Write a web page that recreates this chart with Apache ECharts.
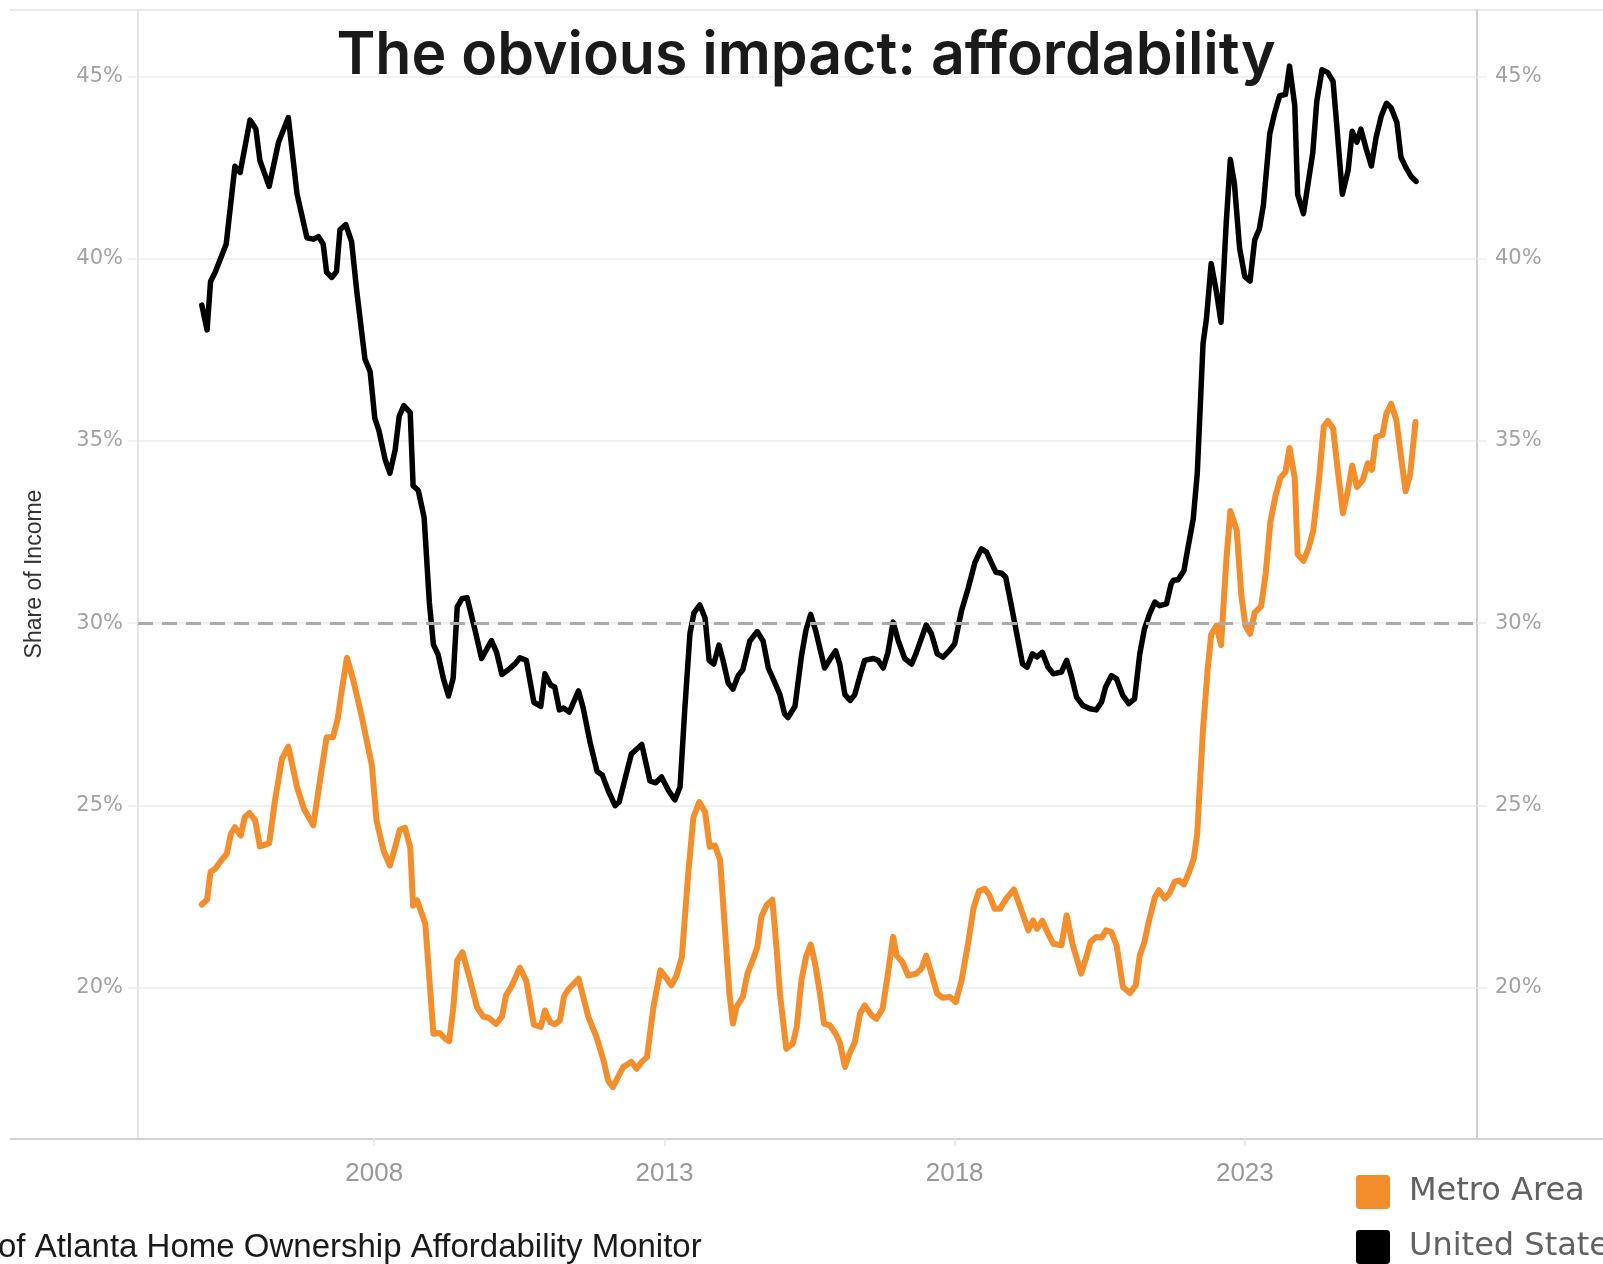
<!DOCTYPE html>
<html>
<head>
<meta charset="utf-8">
<script src="https://cdn.jsdelivr.net/npm/echarts@6/dist/echarts.min.js"></script>
<style>
  html, body { margin: 0; padding: 0; background: #ffffff; }
  #chart { width: 1603px; height: 1264px; }
</style>
</head>
<body>
<div id="chart"></div>
<script>
// ---- Data (decimal years, share of income in %) ----
const usYear = [2005.03,2005.12,2005.18,2005.26,2005.45,2005.60,2005.69,2005.86,2005.96,2006.03,2006.19,2006.35,2006.52,2006.67,2006.84,2006.95,2007.04,2007.12,2007.18,2007.27,2007.35,2007.41,2007.51,2007.61,2007.70,2007.84,2007.93,2008.01,2008.08,2008.19,2008.27,2008.36,2008.43,2008.51,2008.62,2008.67,2008.76,2008.86,2008.95,2009.02,2009.10,2009.19,2009.28,2009.36,2009.43,2009.51,2009.60,2009.74,2009.85,2010.02,2010.11,2010.20,2010.34,2010.43,2010.51,2010.62,2010.75,2010.87,2010.94,2011.04,2011.11,2011.19,2011.26,2011.36,2011.52,2011.60,2011.72,2011.84,2011.93,2012.03,2012.15,2012.22,2012.32,2012.43,2012.61,2012.75,2012.85,2012.95,2013.07,2013.18,2013.27,2013.35,2013.44,2013.51,2013.61,2013.70,2013.77,2013.85,2013.94,2014.01,2014.10,2014.18,2014.27,2014.35,2014.47,2014.60,2014.70,2014.79,2014.92,2014.99,2015.07,2015.13,2015.25,2015.36,2015.44,2015.52,2015.61,2015.76,2015.86,2015.95,2016.02,2016.11,2016.20,2016.28,2016.37,2016.45,2016.60,2016.68,2016.77,2016.85,2016.94,2017.03,2017.14,2017.26,2017.34,2017.51,2017.60,2017.70,2017.80,2017.92,2018.00,2018.12,2018.23,2018.35,2018.46,2018.55,2018.63,2018.71,2018.81,2018.88,2018.96,2019.06,2019.17,2019.25,2019.34,2019.42,2019.51,2019.61,2019.70,2019.84,2019.93,2020.01,2020.10,2020.21,2020.33,2020.44,2020.53,2020.60,2020.70,2020.79,2020.90,2021.00,2021.10,2021.19,2021.27,2021.36,2021.45,2021.53,2021.65,2021.73,2021.77,2021.85,2021.95,2022.02,2022.11,2022.18,2022.23,2022.28,2022.34,2022.42,2022.51,2022.59,2022.68,2022.75,2022.82,2022.91,2023.00,2023.09,2023.17,2023.25,2023.32,2023.43,2023.51,2023.60,2023.70,2023.77,2023.86,2023.91,2024.01,2024.09,2024.17,2024.24,2024.33,2024.43,2024.52,2024.58,2024.68,2024.78,2024.85,2024.93,2025.00,2025.09,2025.18,2025.26,2025.35,2025.44,2025.52,2025.62,2025.69,2025.78,2025.87,2025.95];
const usShare = [38.73,38.05,39.38,39.63,40.41,42.54,42.37,43.81,43.57,42.70,41.99,43.19,43.88,41.78,40.58,40.54,40.61,40.41,39.63,39.49,39.65,40.80,40.94,40.47,39.10,37.25,36.90,35.62,35.29,34.48,34.12,34.75,35.68,35.97,35.78,33.77,33.64,32.90,30.56,29.41,29.14,28.49,28.00,28.49,30.45,30.67,30.70,29.79,29.03,29.52,29.19,28.59,28.76,28.89,29.05,28.98,27.83,27.72,28.61,28.30,28.25,27.62,27.67,27.56,28.14,27.67,26.72,25.93,25.83,25.41,24.99,25.09,25.72,26.41,26.67,25.67,25.62,25.78,25.41,25.15,25.51,27.62,29.72,30.29,30.50,30.14,28.98,28.88,29.40,28.98,28.35,28.19,28.56,28.72,29.51,29.77,29.51,28.77,28.30,28.04,27.51,27.41,27.72,29.09,29.82,30.24,29.77,28.77,29.03,29.24,28.88,28.04,27.88,28.04,28.56,28.98,29.03,28.98,28.77,29.19,30.03,29.51,29.03,28.88,29.19,29.95,29.71,29.16,29.07,29.27,29.43,30.35,30.94,31.67,32.04,31.95,31.67,31.40,31.37,31.26,30.62,29.80,28.88,28.79,29.16,29.07,29.20,28.79,28.61,28.66,28.98,28.56,27.97,27.74,27.65,27.62,27.83,28.24,28.56,28.47,28.01,27.79,27.92,29.16,29.84,30.26,30.58,30.48,30.53,31.08,31.18,31.19,31.44,32.07,32.85,34.10,35.88,37.67,38.38,39.87,39.10,38.26,41.00,42.73,42.07,40.29,39.51,39.39,40.52,40.82,41.48,43.44,43.98,44.48,44.51,45.29,44.21,41.77,41.24,42.07,42.90,44.33,45.19,45.11,44.87,43.74,41.77,42.43,43.50,43.20,43.56,43.02,42.55,43.32,43.92,44.27,44.15,43.74,42.79,42.49,42.25,42.13];

const metroYear = [2005.03,2005.12,2005.18,2005.26,2005.37,2005.46,2005.53,2005.60,2005.70,2005.77,2005.85,2005.95,2006.03,2006.12,2006.19,2006.29,2006.41,2006.52,2006.67,2006.79,2006.95,2007.07,2007.18,2007.29,2007.37,2007.44,2007.53,2007.64,2007.78,2007.96,2008.04,2008.16,2008.27,2008.36,2008.44,2008.53,2008.62,2008.67,2008.74,2008.88,2009.02,2009.13,2009.22,2009.29,2009.36,2009.43,2009.52,2009.64,2009.77,2009.88,2009.97,2010.10,2010.20,2010.27,2010.37,2010.51,2010.62,2010.75,2010.87,2010.94,2011.03,2011.11,2011.20,2011.27,2011.34,2011.52,2011.69,2011.83,2011.95,2012.03,2012.11,2012.20,2012.29,2012.43,2012.52,2012.61,2012.70,2012.81,2012.93,2013.04,2013.12,2013.21,2013.30,2013.41,2013.50,2013.60,2013.70,2013.78,2013.87,2013.96,2014.04,2014.12,2014.18,2014.24,2014.35,2014.43,2014.53,2014.60,2014.67,2014.76,2014.86,2014.93,2014.99,2015.10,2015.21,2015.28,2015.36,2015.44,2015.52,2015.59,2015.68,2015.75,2015.85,2015.95,2016.02,2016.11,2016.20,2016.28,2016.37,2016.45,2016.57,2016.65,2016.76,2016.85,2016.94,2017.00,2017.10,2017.20,2017.34,2017.43,2017.51,2017.60,2017.70,2017.79,2017.92,2018.02,2018.12,2018.23,2018.33,2018.42,2018.52,2018.60,2018.69,2018.78,2018.89,2019.02,2019.12,2019.27,2019.35,2019.42,2019.51,2019.61,2019.70,2019.84,2019.93,2020.03,2020.18,2020.27,2020.34,2020.44,2020.53,2020.61,2020.70,2020.79,2020.90,2021.02,2021.12,2021.19,2021.27,2021.35,2021.45,2021.52,2021.62,2021.70,2021.79,2021.87,2021.95,2022.04,2022.12,2022.18,2022.22,2022.28,2022.36,2022.42,2022.51,2022.59,2022.68,2022.75,2022.86,2022.94,2023.01,2023.09,2023.17,2023.28,2023.36,2023.44,2023.53,2023.61,2023.70,2023.77,2023.86,2023.91,2024.01,2024.10,2024.18,2024.28,2024.36,2024.43,2024.52,2024.60,2024.69,2024.78,2024.85,2024.93,2025.03,2025.12,2025.19,2025.26,2025.37,2025.44,2025.52,2025.61,2025.69,2025.77,2025.85,2025.94];
const metroShare = [22.28,22.41,23.17,23.26,23.50,23.67,24.22,24.40,24.17,24.68,24.79,24.58,23.87,23.92,23.96,25.13,26.28,26.61,25.50,24.90,24.45,25.73,26.87,26.87,27.37,28.15,29.05,28.43,27.47,26.09,24.58,23.76,23.35,23.85,24.33,24.38,23.85,22.25,22.39,21.75,18.73,18.75,18.60,18.53,19.41,20.74,20.97,20.28,19.46,19.20,19.17,19.00,19.20,19.78,20.05,20.54,20.18,18.98,18.92,19.37,19.05,18.99,19.10,19.76,19.94,20.24,19.19,18.64,18.00,17.45,17.27,17.54,17.82,17.96,17.77,17.96,18.09,19.46,20.47,20.24,20.06,20.33,20.84,23.12,24.68,25.09,24.82,23.86,23.90,23.49,21.66,19.83,19.01,19.46,19.74,20.38,20.79,21.11,21.94,22.26,22.41,21.11,19.83,18.32,18.46,18.92,20.20,20.84,21.18,20.70,19.83,19.01,18.96,18.73,18.50,17.82,18.23,18.50,19.28,19.51,19.24,19.14,19.42,20.38,21.39,20.88,20.70,20.33,20.38,20.52,20.88,20.38,19.83,19.72,19.74,19.60,20.20,21.20,22.21,22.65,22.71,22.53,22.16,22.16,22.44,22.69,22.26,21.57,21.84,21.61,21.83,21.48,21.20,21.16,21.98,21.20,20.38,20.84,21.25,21.39,21.37,21.57,21.52,21.16,20.01,19.85,20.06,20.88,21.25,21.84,22.48,22.67,22.44,22.58,22.90,22.94,22.83,23.17,23.54,24.22,25.41,27.10,28.74,29.69,29.93,29.40,31.71,33.08,32.55,30.76,29.93,29.71,30.29,30.46,31.36,32.79,33.50,33.98,34.15,34.81,33.98,31.89,31.71,32.07,32.55,33.98,35.40,35.55,35.35,34.21,33.02,33.68,34.33,33.74,33.92,34.39,34.21,35.11,35.17,35.76,36.02,35.58,34.57,33.62,34.10,35.52];

const xTickYears = [2008, 2013, 2018, 2023];
const yTickValues = [20, 25, 30, 35, 40, 45];
const thresholdValue = 30;
const seriesNames = ['Metro Area', 'United States'];
const titleText = 'The obvious impact: affordability';
const sourceText = 'of Atlanta Home Ownership Affordability Monitor';
const yAxisTitle = 'Share of Income';

// ---- Build ----
const zip = (xs, ys) => xs.map((x, i) => [x, ys[i]]);
const chart = echarts.init(document.getElementById('chart'), null, { renderer: 'canvas' });

const yLabelBase = { fontFamily: 'DejaVu Sans', fontSize: 21, color: '#a3a3a3',
  customValues: yTickValues, formatter: v => Math.round(v) + '%' };
const yTick = { show: true, length: 10, lineStyle: { color: '#ececec', width: 1.5 }, customValues: yTickValues };
const squareIcon = 'path://M1,0H9A1,1 0 0 1 10,1V9A1,1 0 0 1 9,10H1A1,1 0 0 1 0,9V1A1,1 0 0 1 1,0Z';
const legendBase = {
  orient: 'vertical', left: 1356, padding: 0,
  itemWidth: 34, itemHeight: 34, icon: squareIcon,
  textStyle: { fontFamily: 'DejaVu Sans', fontSize: 32, color: '#616161', padding: [0, 0, 0, 14] }
};

chart.setOption({
  animation: false,
  backgroundColor: '#ffffff',
  grid: { left: 138, top: 10, width: 1339, height: 1128, containLabel: false },
  xAxis: {
    type: 'value', min: 2003.93, max: 2027.0,
    axisLine: { show: false },
    axisTick: { show: true, length: 8, lineStyle: { color: '#e6e6e6', width: 1.5 }, customValues: xTickYears },
    axisLabel: { customValues: xTickYears, formatter: v => String(Math.round(v)),
      fontFamily: 'Liberation Sans Narrow, Liberation Sans', fontSize: 26, color: '#999999', margin: 23 },
    splitLine: { show: false }
  },
  yAxis: [
    {
      type: 'value', min: 15.87, max: 46.83, position: 'left',
      name: yAxisTitle, nameLocation: 'middle', nameRotate: 90, nameGap: 92,
      nameTextStyle: { fontFamily: 'Liberation Sans', fontSize: 23, color: '#333333' },
      axisLine: { show: true, lineStyle: { color: '#dcdcdc', width: 1.5 } },
      axisTick: yTick,
      axisLabel: Object.assign({ margin: 15 }, yLabelBase),
      splitLine: { show: true, lineStyle: { color: '#ececec', width: 1.5 } }
    },
    {
      type: 'value', min: 15.87, max: 46.83, position: 'right',
      axisLine: { show: true, lineStyle: { color: '#cfcfcf', width: 2 } },
      axisTick: yTick,
      axisLabel: Object.assign({ margin: 18 }, yLabelBase),
      splitLine: { show: false }
    }
  ],
  legend: [
    Object.assign({ data: [seriesNames[0]], top: 1175 }, legendBase),
    Object.assign({ data: [seriesNames[1]], top: 1230 }, legendBase)
  ],
  graphic: [
    { type: 'line', shape: { x1: 10, y1: 10, x2: 1603, y2: 10 }, style: { stroke: '#e2e2e2', lineWidth: 1.5 }, silent: true },
    { type: 'line', shape: { x1: 10, y1: 1139, x2: 1603, y2: 1139 }, style: { stroke: '#d2d2d2', lineWidth: 2 }, silent: true },
    { type: 'text', x: 806, y: 56, z: 10,
      style: { text: titleText, fontFamily: 'Inter', fontWeight: 600, fontSize: 59, fill: '#1a1a1a', align: 'center', verticalAlign: 'middle' } },
    { type: 'text', x: -2, y: 1248,
      style: { text: sourceText, fontFamily: 'Liberation Sans Narrow, Liberation Sans', fontSize: 33, fill: '#1a1a1a', align: 'left', verticalAlign: 'middle' } }
  ],
  series: [
    {
      name: seriesNames[0], type: 'line', data: zip(metroYear, metroShare),
      color: '#F28E2B', showSymbol: false, symbol: 'none',
      lineStyle: { width: 6, color: '#F28E2B', join: 'round', cap: 'round' },
      z: 3,
      markLine: {
        silent: true, symbol: ['none', 'none'], label: { show: false },
        lineStyle: { type: [15, 9], color: '#ababab', width: 3 },
        data: [{ yAxis: thresholdValue }]
      }
    },
    {
      name: seriesNames[1], type: 'line', data: zip(usYear, usShare),
      color: '#000000', showSymbol: false, symbol: 'none',
      lineStyle: { width: 5.5, color: '#000000', join: 'round', cap: 'round' },
      z: 4
    }
  ]
});
</script>
</body>
</html>
